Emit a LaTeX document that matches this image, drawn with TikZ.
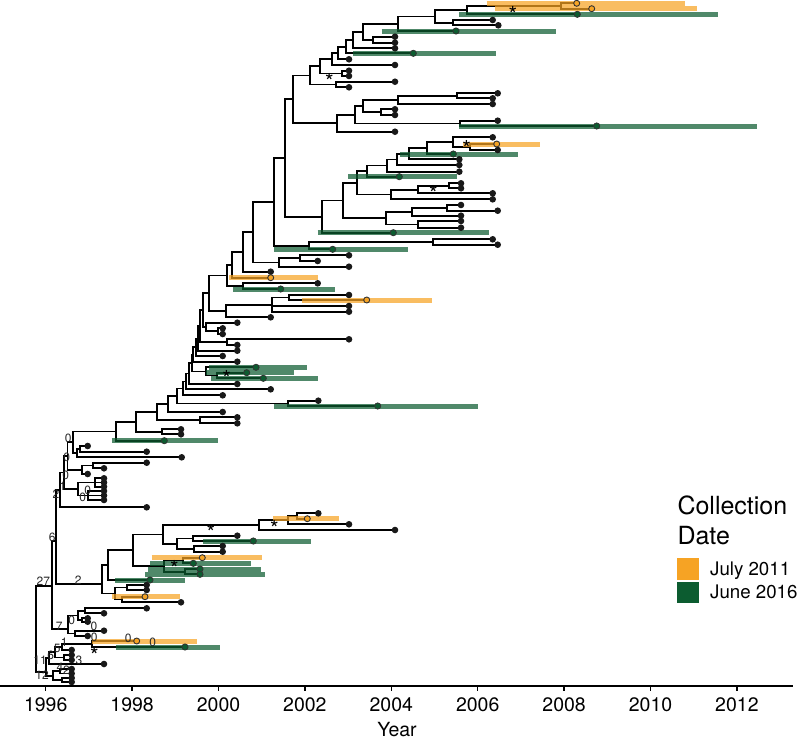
\documentclass[tikz,border=0pt]{standalone}
\usepackage{fontspec}
\setmainfont{TeX Gyre Heros}
\definecolor{orgC}{RGB}{246,163,36}
\definecolor{grnC}{RGB}{12,92,48}
\newcommand\cc[3]{\coordinate (#1) at (#2,#3);}
\newcommand\clade[3]{\draw[br] (#1) |- (#2) (#1) |- (#3);}
\newcommand\cladethree[4]{\draw[br] (#1) |- (#2) (#1) |- (#3) (#1) |- (#4);}
\newcommand\obar[3]{\draw[obarS] (#1,#3) -- (#2,#3);}
\newcommand\gbar[3]{\draw[gbarS] (#1,#3) -- (#2,#3);}
\newcommand\blab[3]{\node[blabS] at (#1,#2) {#3};}
\newcommand\astr[2]{\node[starS] at (#1,#2+12.6) {*};}
\begin{document}
\begin{tikzpicture}[x=1pt,y=-1pt,
  br/.style={line width=1.8pt,black},
  obarS/.style={line width=5pt,orgC,draw opacity=0.72},
  gbarS/.style={line width=5pt,grnC,draw opacity=0.72},
  blabS/.style={font=\fontsize{12}{13}\selectfont,text=black!85,inner sep=0},
  starS/.style={font=\fontsize{22}{22}\selectfont,inner sep=0,anchor=base},
  ticklab/.style={font=\fontsize{19.5}{22}\selectfont,anchor=base,inner sep=0},
  legtxt/.style={font=\fontsize{18.7}{22}\selectfont,anchor=base west,inner sep=0},
  legtitle/.style={font=\fontsize{25}{30}\selectfont,anchor=base west,inner sep=0}]
\useasboundingbox (0,0) rectangle (800,742);
% ---------- tips: top clade
\cc{a1}{576.7}{3.3}\cc{a2}{591.7}{8.7}\cc{a3}{577.3}{14.3}\cc{a4}{492.7}{20}
\cc{a5}{498.3}{25.3}\cc{a6}{456}{31}\cc{a7}{395}{36.7}\cc{a8}{395}{42.7}
\cc{a9}{395}{48.3}\cc{a10}{413.3}{53.3}\cc{a11}{349}{59.3}\cc{a12}{395}{65}
\cc{a13}{349}{70.7}\cc{a14}{349}{76}\cc{a15}{395}{81.7}\cc{a16}{349}{87.3}
\cc{a17}{497.7}{93.3}\cc{a18}{492.7}{98.3}\cc{a19}{492.7}{104}\cc{a20}{395}{109.3}
\cc{a21}{395}{115}\cc{a22}{497.7}{120.7}\cc{a23}{596.7}{126}\cc{a24}{395}{131.7}
% internal top
\cc{A1}{560.7}{6}\cc{A}{466.7}{10}\cc{Tu12}{453.3}{22.7}\cc{Tu11}{435}{16.4}
\cc{Tu9}{398.3}{23.7}\cc{Tu10}{373.3}{39.7}\cc{Tu8}{363.3}{31.7}\cc{Tu7}{352.7}{40}
\cc{Tu6}{346}{46.7}\cc{Tu5}{338.3}{53}\cc{Tu3}{331.7}{59}\cc{Tu4}{341.7}{73.4}
\cc{Tu1}{320}{66.2}\cc{Tu2}{336}{84.5}\cc{Tu}{310}{75.4}
\cc{Tl6}{456.7}{95.8}\cc{Tl4}{398.3}{99.9}\cc{Tl5}{380.7}{112.2}\cc{Tl2}{363.3}{106}
\cc{Tl3}{460}{123.4}\cc{Tl1}{355}{114.7}\cc{Tl}{337.3}{123.2}\cc{T}{293.3}{99.3}
% ---------- tips: middle upper
\cc{b1}{492.7}{137.3}\cc{b2}{496.7}{144}\cc{b3}{497.7}{150}\cc{b4}{453.3}{154}
\cc{b5}{459.3}{159.3}\cc{b6}{459.3}{165}\cc{b7}{459.3}{171.7}\cc{b8}{399.3}{176.7}
\cc{b9}{461}{183.3}\cc{b10}{461}{188.3}\cc{b11}{492.7}{193.3}\cc{b12}{492.7}{199.3}
\cc{b13}{461}{205}\cc{b14}{497.7}{210.7}\cc{b15}{461}{215.7}\cc{b16}{461}{221}
\cc{b17}{461}{227.7}\cc{b18}{393.3}{232.7}\cc{b19}{492.7}{239.3}\cc{b20}{497.7}{244.7}
\cc{b21}{332.7}{249.3}\cc{b22}{349}{255.3}\cc{b23}{317.7}{261}\cc{b24}{349}{266.7}
\cc{b25}{270.7}{271.7}\cc{b26}{270.7}{277.7}\cc{b27}{317.7}{283.3}\cc{b28}{280.7}{289}
\cc{b29}{349}{295}\cc{b30}{366.7}{300}\cc{b31}{349}{306}\cc{b32}{349}{311.7}
\cc{b33}{270.7}{317.3}
% internal middle upper
\cc{N470}{470}{147}\cc{N453}{453.3}{142.2}\cc{N426}{426.7}{148.1}\cc{N409}{409.3}{153.7}
\cc{N396}{396.7}{159.4}\cc{N386}{386.7}{165.5}\cc{N366}{366.7}{171.1}
\cc{N449}{449.3}{185.8}\cc{N418}{418.3}{189.6}\cc{N390}{390.7}{194.4}\cc{N356}{356.7}{182.8}
\cc{N447}{447.3}{207.9}\cc{N411}{411.7}{211.8}\cc{N418b}{418.3}{224.4}\cc{N385}{385.7}{218.1}
\cc{N342}{342.7}{200.5}\cc{N321}{321.7}{216.6}\cc{N285}{285}{157.9}
\cc{N433}{433.3}{242}\cc{N309}{309.3}{245.7}\cc{N274}{274}{201.8}
\cc{N300}{300}{258.2}\cc{N279}{279.3}{262.5}\cc{N253}{253.3}{232.1}\cc{N243}{243.3}{251.9}
\cc{N232}{232.3}{264.8}\cc{N243b}{243.3}{286.2}\cc{N226}{226.7}{275.5}
\cc{W3}{289.3}{297.5}\cc{W2}{271.7}{304.6}\cc{W1}{226}{311}\cc{W}{209.3}{293.2}
% ---------- tips: middle lower
\cc{c1}{237.3}{322.7}\cc{c2}{222.7}{328.3}\cc{c3}{222.7}{334}\cc{c4}{349}{339.3}
\cc{c5}{237.3}{345}\cc{c6}{237.3}{350.7}\cc{c7}{222.7}{356}\cc{c8}{237.3}{361.7}
\cc{c9}{256}{367.3}\cc{c10}{246.7}{372.7}\cc{c11}{263.3}{378.3}\cc{c12}{237.3}{384}
\cc{c13}{270.7}{389.3}\cc{c14}{222.7}{395.3}\cc{c15}{318.3}{400.7}\cc{c16}{377.7}{406}
\cc{c17}{222.7}{412}\cc{c18}{237.3}{417.3}\cc{c19}{237.3}{423.3}\cc{c20}{181}{429.3}
\cc{c21}{181}{434.3}\cc{c22}{164.3}{440.7}
% internal middle lower
\cc{S14b}{218.3}{331.2}\cc{S14}{206}{327}\cc{V}{203}{310.1}\cc{S13b}{227.3}{342.2}
\cc{S13}{200}{326.2}\cc{S12}{198.3}{338.5}\cc{S11}{196}{347.3}\cc{S10}{193.3}{354.5}
\cc{G1}{216.7}{375.5}\cc{G}{206}{371.4}\cc{S9}{191.7}{363}\cc{S8}{189.3}{373.5}
\cc{S7}{186}{381.4}\cc{S6}{183.3}{388.4}\cc{S4b}{288.3}{403.4}\cc{S5}{176.7}{395.9}
\cc{S4}{168.3}{404}\cc{S3c}{200}{420.3}\cc{S3}{156.7}{412.2}\cc{U4}{161.7}{431.8}
\cc{S2}{136}{422}\cc{S1}{116}{431.4}
% ---------- ladder
\cc{d1}{87.7}{446}\cc{d2}{146.7}{451.7}\cc{d3}{181.7}{457.3}\cc{d4}{146.7}{462.7}
\cc{d5}{104}{468.3}\cc{d6}{87.7}{474}\cc{d7}{104}{478.3}\cc{d8}{104}{482.5}
\cc{d9}{104}{486.7}\cc{d10}{104}{491}\cc{d11}{104}{495.5}\cc{d12}{104}{500}
\cc{d13}{146.7}{507.3}
\cc{P7a}{80}{448.9}\cc{P7}{77.3}{453.1}\cc{P6}{73.3}{442.3}\cc{P5a}{93.3}{465.5}
\cc{P5}{81.7}{469.8}\cc{P4}{67.5}{456}\cc{P3a}{95}{482.5}\cc{P3b}{88}{495.5}
\cc{P3}{78}{489}\cc{P2}{64}{472.5}\cc{P1}{60}{489.9}
% ---------- lower clade
\cc{e1}{318.3}{513.3}\cc{e2}{307.3}{518.7}\cc{e3}{349}{524.3}\cc{e4}{395}{530}
\cc{e5}{237.3}{535.7}\cc{e6}{253.3}{541}\cc{e7}{222.7}{546}\cc{e8}{222.7}{551.7}
\cc{e9}{202.3}{557.7}\cc{e10}{193.3}{563.3}\cc{e11}{200}{569}\cc{e12}{200}{574.3}
\cc{e13}{150}{580}\cc{e14}{146.7}{585}\cc{e15}{146.7}{590}\cc{e16}{145}{596.7}
\cc{e17}{181}{602.3}
\cc{F2}{296.7}{516}\cc{F1}{288.3}{520.2}\cc{F}{259.3}{525.1}\cc{G1p}{193.3}{538.4}
\cc{G2p}{194.3}{548.9}\cc{Gp}{176.7}{543.6}\cc{E1b}{162.7}{534.4}\cc{K1}{183}{560.5}
\cc{K2}{185}{571.7}\cc{K}{164.3}{566.1}\cc{E1a}{133}{550.2}\cc{E1}{108}{565.1}
\cc{E2a}{127.3}{587.5}\cc{E2b}{122}{599.5}\cc{E2}{115}{593.5}\cc{N2b}{101.7}{584}
% ---------- D clade
\cc{f1}{146.7}{608.3}\cc{f2}{104}{613.3}\cc{f3}{87.7}{618.3}\cc{f4}{87.7}{621.7}
\cc{f5}{104}{630.7}\cc{f6}{87.7}{636}
\cc{D1a}{85}{610.8}\cc{D1b}{82}{620}\cc{D1}{78}{615.4}\cc{D2}{75}{633.4}\cc{D}{68.3}{629}
\cc{N6}{56}{541}\cc{A0}{51.7}{586}
% ---------- B clade
\cc{g1}{71.7}{650}\cc{g2}{71.7}{655}\cc{g3}{71.7}{660}\cc{g4}{104}{664}
\cc{g5}{71.7}{669}\cc{g6}{71.7}{673.5}\cc{g7}{71.7}{678}\cc{g8}{71.7}{682}
\cc{h1}{136.7}{641}\cc{h2}{185}{647}
\cc{M}{92}{644}\cc{L}{61.7}{647}\cc{B1c}{64}{657.5}\cc{B1a}{55}{652}\cc{B1}{49.3}{658}
\cc{B2a}{60}{671.2}\cc{B2b}{62}{680}\cc{B2}{53}{675.6}\cc{B}{46}{671.7}\cc{R}{35.7}{629}
% ================= branches
\clade{A1}{a1}{a2}\clade{A}{A1}{a3}\clade{Tu12}{a4}{a5}\clade{Tu11}{A}{Tu12}
\clade{Tu9}{Tu11}{a6}\clade{Tu10}{a7}{a8}\clade{Tu8}{Tu9}{Tu10}\clade{Tu7}{Tu8}{a9}
\clade{Tu6}{Tu7}{a10}\clade{Tu5}{Tu6}{a11}\clade{Tu3}{Tu5}{a12}\clade{Tu4}{a13}{a14}
\clade{Tu1}{Tu3}{Tu4}\clade{Tu2}{a15}{a16}\clade{Tu}{Tu1}{Tu2}
\clade{Tl6}{a17}{a18}\clade{Tl4}{Tl6}{a19}\clade{Tl5}{a20}{a21}\clade{Tl2}{Tl4}{Tl5}
\clade{Tl3}{a22}{a23}\clade{Tl1}{Tl2}{Tl3}\clade{Tl}{Tl1}{a24}\clade{T}{Tu}{Tl}
\clade{N470}{b2}{b3}\clade{N453}{b1}{N470}\clade{N426}{N453}{b4}\clade{N409}{N426}{b5}
\clade{N396}{N409}{b6}\clade{N386}{N396}{b7}\clade{N366}{N386}{b8}
\clade{N449}{b9}{b10}\clade{N418}{N449}{b11}\clade{N390}{N418}{b12}\clade{N356}{N366}{N390}
\clade{N447}{b13}{b14}\clade{N411}{N447}{b15}\clade{N418b}{b16}{b17}\clade{N385}{N411}{N418b}
\clade{N342}{N356}{N385}\clade{N321}{N342}{b18}\clade{N285}{T}{N321}
\clade{N433}{b19}{b20}\clade{N309}{N433}{b21}\clade{N274}{N285}{N309}
\clade{N300}{b22}{b23}\clade{N279}{N300}{b24}\clade{N253}{N274}{N279}\clade{N243}{N253}{b25}
\clade{N232}{N243}{b26}\clade{N243b}{b27}{b28}\clade{N226}{N232}{N243b}
\clade{W3}{b29}{b30}\cladethree{W2}{W3}{b31}{b32}\clade{W1}{W2}{b33}\clade{W}{N226}{W1}
\clade{S14b}{c2}{c3}\clade{S14}{c1}{S14b}\clade{V}{W}{S14}\clade{S13b}{c4}{c5}
\clade{S13}{V}{S13b}\clade{S12}{S13}{c6}\clade{S11}{S12}{c7}\clade{S10}{S11}{c8}
\clade{G1}{c10}{c11}\clade{G}{c9}{G1}\clade{S9}{S10}{G}\clade{S8}{S9}{c12}
\clade{S7}{S8}{c13}\clade{S6}{S7}{c14}\clade{S4b}{c15}{c16}\clade{S5}{S6}{S4b}
\clade{S4}{S5}{c17}\clade{S3c}{c18}{c19}\clade{S3}{S4}{S3c}\clade{U4}{c20}{c21}
\clade{S2}{S3}{U4}\clade{S1}{S2}{c22}
\clade{P7a}{d1}{d2}\clade{P7}{P7a}{d3}\clade{P6}{S1}{P7}\clade{P5a}{d4}{d5}
\clade{P5}{P5a}{d6}\clade{P4}{P6}{P5}\cladethree{P3a}{d7}{d8}{d9}\cladethree{P3b}{d10}{d11}{d12}
\clade{P3}{P3a}{P3b}\clade{P2}{P4}{P3}\clade{P1}{P2}{d13}
\clade{F2}{e1}{e2}\clade{F1}{F2}{e3}\clade{F}{F1}{e4}\clade{G1p}{e5}{e6}\clade{G2p}{e7}{e8}
\clade{Gp}{G1p}{G2p}\clade{E1b}{F}{Gp}\clade{K1}{e9}{e10}\clade{K2}{e11}{e12}\clade{K}{K1}{K2}
\clade{E1a}{E1b}{K}\clade{E1}{E1a}{e13}\clade{E2a}{e14}{e15}\clade{E2b}{e16}{e17}
\clade{E2}{E2a}{E2b}\clade{N2b}{E1}{E2}\clade{N6}{P1}{N2b}
\clade{D1a}{f1}{f2}\clade{D1b}{f3}{f4}\clade{D1}{D1a}{D1b}\clade{D2}{f5}{f6}\clade{D}{D1}{D2}
\clade{A0}{N6}{D}
\clade{M}{h1}{h2}\clade{L}{M}{g1}\clade{B1c}{g2}{g3}\clade{B1a}{L}{B1c}\clade{B1}{B1a}{g4}
\clade{B2a}{g5}{g6}\clade{B2b}{g7}{g8}\clade{B2}{B2a}{B2b}\clade{B}{B1}{B2}
\clade{R}{A0}{B}
% ================= HPD bars
\obar{486.7}{685}{3.3}\obar{495}{696.7}{8.7}\obar{463.3}{540}{144}\obar{229.3}{318.3}{277.7}
\obar{301.7}{432}{300}\obar{273.3}{339.3}{518.7}\obar{151.7}{261.7}{557.7}\obar{112}{180}{596.7}
\obar{91.7}{196.7}{641}
\gbar{459.3}{718.3}{14.3}\gbar{381.7}{556}{31}\gbar{353.3}{496}{53.3}\gbar{459.3}{756.7}{126}
\gbar{400}{518.3}{154}\gbar{348.3}{456.7}{176.7}\gbar{317.7}{489.3}{232.7}\gbar{274}{408.3}{249.3}
\gbar{233.3}{335}{289}\gbar{209.3}{306.7}{367.3}\gbar{206}{294}{372.7}\gbar{211}{318.3}{378.3}
\gbar{274.3}{478}{406}\gbar{111.7}{218.3}{440.7}\gbar{203.3}{310.7}{541}\gbar{150}{251}{563.3}
\gbar{148}{261}{569}\gbar{145}{265}{574.3}\gbar{115}{185}{580}\gbar{116}{220}{647}
% ================= tip points
\foreach \n in {a4,a5,a7,a8,a9,a11,a12,a13,a14,a15,a16,a17,a18,a19,a20,a21,a22,a24,
  b1,b3,b5,b6,b7,b9,b10,b11,b12,b13,b14,b15,b16,b17,b19,b20,b22,b23,b24,b25,b27,b29,b31,b32,b33,
  c1,c2,c3,c4,c5,c6,c7,c8,c12,c13,c14,c15,c17,c18,c19,c20,c21,
  d1,d2,d3,d4,d5,d6,d7,d8,d9,d10,d11,d12,d13,e1,e3,e4,e5,e7,e8,e14,e15,e17,
  f1,f2,f3,f4,f5,f6,g1,g2,g3,g4,g5,g6,g7,g8}
  \fill[black!90] (\n) circle (3.3);
\foreach \n in {a1,a2,b2,b26,b30,e2,e9,e16,h1}
  \filldraw[fill=orgC,draw=black!80,line width=0.9pt] (\n) circle (3);
\foreach \n in {a3,a6,a10,a23,b4,b8,b18,b21,b28,c9,c10,c11,c16,c22,e6,e10,e11,e12,e13,h2}
  \filldraw[fill=grnC,draw=black!80,line width=0.8pt] (\n) circle (3.1);
% ================= stars
\astr{513}{10}\astr{329.3}{77.3}\astr{466.7}{144}\astr{433.3}{189.3}\astr{226.7}{374.3}
\astr{211}{528.3}\astr{274.3}{524.3}\astr{174.3}{564.3}\astr{94.3}{650.5}
% ================= branch labels
\blab{68.3}{438.3}{0}\blab{66.7}{457.3}{0}\blab{65.7}{475}{0}\blab{62.7}{486}{1}
\blab{56}{494.3}{2}\blab{52.3}{537.3}{6}\blab{87.7}{490}{0}\blab{82.7}{497.3}{0}
\blab{43.3}{581.5}{27}\blab{78.3}{580.5}{2}\blab{59.3}{626}{7}\blab{71.7}{620}{0}
\blab{94}{626}{0}\blab{64.3}{642.3}{1}\blab{94.3}{637.5}{0}\blab{128.3}{638.3}{0}
\blab{152.7}{642.7}{0}\blab{57.3}{648.3}{5}\blab{50.7}{655}{6}\blab{40}{660}{11}
\blab{60}{667}{4}\blab{79}{660}{3}\blab{42}{675}{12}\blab{66.5}{670}{2}
% ================= axis
\coordinate (ax0) at (0,686);
\coordinate (ax1) at (792.7,686);
\draw[line width=1.7pt] (ax0) -- (ax1);
\foreach \yr [count=\i from 0] in {1996,1998,...,2012}{
  \draw[line width=1.3pt] (45.7+86.4*\i,686) -- (45.7+86.4*\i,690.5);
  \node[ticklab] at (45.7+86.4*\i,711.6) {\yr};
}
\node[ticklab] (ylab) at (397,736.5) {Year};
% ================= legend
\node[legtitle] (lt1) at (677.3,514) {Collection};
\node[legtitle] (lt2) at (677.3,544.3) {Date};
\fill[orgC] (677.3,558.3) rectangle (698.7,580);
\fill[grnC] (677.3,581.7) rectangle (698.7,602.7);
\node[legtxt] (l1) at (710,575) {July 2011};
\node[legtxt] (l2) at (710,598.3) {June 2016};
\end{tikzpicture}
\end{document}
